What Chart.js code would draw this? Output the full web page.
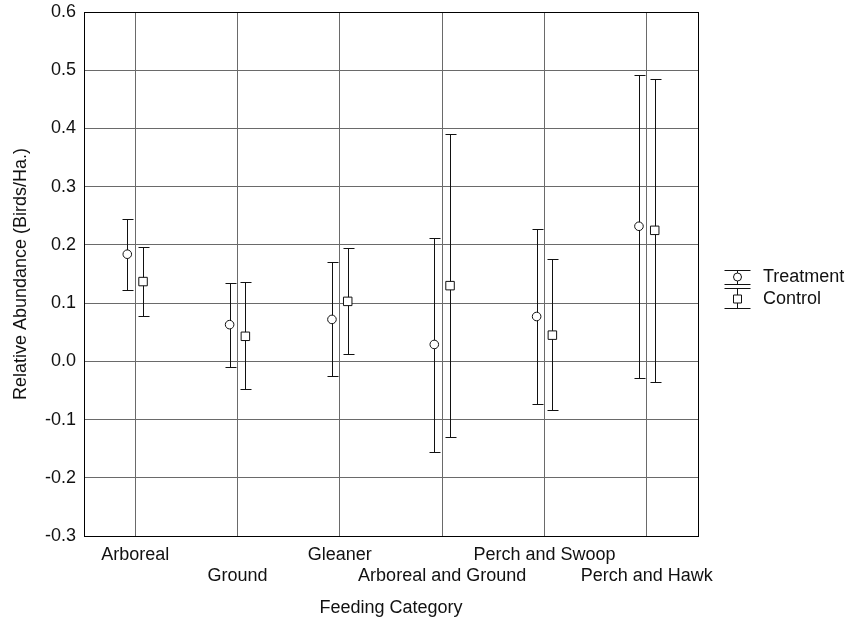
<!DOCTYPE html>
<html>
<head>
<meta charset="utf-8">
<script src="https://cdn.jsdelivr.net/npm/chart.js@4"></script>
<style>
  body { margin: 0; background: #fff; }
  #wrap { width: 847px; height: 623px; position: relative; }
</style>
</head>
<body>
<div id="wrap"><canvas id="feedingChart"></canvas></div>
<script>
var categories = ['Arboreal', 'Ground', 'Gleaner', 'Arboreal and Ground', 'Perch and Swoop', 'Perch and Hawk'];
var seriesNames = ['Treatment', 'Control'];

var treatmentMean = [0.184, 0.063, 0.072, 0.029, 0.077, 0.232];
var treatmentLow  = [0.122, -0.009, -0.026, -0.156, -0.073, -0.028];
var treatmentHigh = [0.244, 0.135, 0.171, 0.212, 0.227, 0.492];

var controlMean = [0.137, 0.043, 0.103, 0.130, 0.045, 0.225];
var controlLow  = [0.078, -0.048, 0.012, -0.130, -0.084, -0.035];
var controlHigh = [0.196, 0.136, 0.195, 0.391, 0.176, 0.485];

var yTicks = [-0.3, -0.2, -0.1, 0.0, 0.1, 0.2, 0.3, 0.4, 0.5, 0.6];

var shift = 0.077;
var font = 'Liberation Sans, Arial, sans-serif';

function points(means, lows, highs, dx) {
    return means.map(function (m, i) {
        return { x: i + dx, y: m, lo: lows[i], hi: highs[i] };
    });
}

var errorBars = {
    id: 'errorBars',
    beforeDatasetsDraw: function (chart) {
        var ctx = chart.ctx;
        var xs = chart.scales.x, ys = chart.scales.y;
        ctx.save();
        ctx.strokeStyle = '#111';
        ctx.lineWidth = 1;
        chart.data.datasets.forEach(function (ds) {
            ds.data.forEach(function (p) {
                var x = Math.round(xs.getPixelForValue(p.x)) + 0.5;
                var y1 = Math.round(ys.getPixelForValue(p.hi)) + 0.5;
                var y2 = Math.round(ys.getPixelForValue(p.lo)) + 0.5;
                ctx.beginPath();
                ctx.moveTo(x, y1); ctx.lineTo(x, y2);
                ctx.moveTo(x - 5, y1); ctx.lineTo(x + 6, y1);
                ctx.moveTo(x - 5, y2); ctx.lineTo(x + 6, y2);
                ctx.stroke();
            });
        });
        ctx.restore();
    },
    afterDraw: function (chart) {
        var ctx = chart.ctx;
        var a = chart.chartArea;
        ctx.save();
        ctx.strokeStyle = '#000';
        ctx.lineWidth = 1;
        ctx.strokeRect(Math.round(a.left) + 0.5, Math.round(a.top) + 0.5,
            Math.round(a.right - a.left), Math.round(a.bottom - a.top));

        // legend with error bar symbols
        var lx = 737.5, tx = 763;
        var rows = [
            { top: 270.5, mid: 277, bot: 284.5, style: 'circle' },
            { top: 288.5, mid: 299, bot: 308.5, style: 'rect' }
        ];
        ctx.font = '18px ' + font;
        ctx.textBaseline = 'middle';
        ctx.textAlign = 'left';
        rows.forEach(function (r, i) {
            ctx.strokeStyle = '#111';
            ctx.beginPath();
            ctx.moveTo(lx, r.top); ctx.lineTo(lx, r.bot);
            ctx.moveTo(lx - 13, r.top); ctx.lineTo(lx + 13, r.top);
            ctx.moveTo(lx - 13, r.bot); ctx.lineTo(lx + 13, r.bot);
            ctx.stroke();
            ctx.fillStyle = '#fff';
            ctx.beginPath();
            if (r.style === 'circle') {
                ctx.arc(lx, r.mid, 4, 0, Math.PI * 2);
            } else {
                ctx.rect(lx - 4, r.mid - 4, 8, 8);
            }
            ctx.fill();
            ctx.stroke();
            ctx.fillStyle = '#111';
            ctx.fillText(seriesNames[i], tx, r.mid);
        });
        ctx.restore();
    }
};

var datos = {
    datasets: [{
        label: seriesNames[0],
        data: points(treatmentMean, treatmentLow, treatmentHigh, -shift),
        pointStyle: 'circle',
        pointRadius: 4.3,
        pointBackgroundColor: '#fff',
        pointBorderColor: '#111',
        pointBorderWidth: 1,
        showLine: false
    }, {
        label: seriesNames[1],
        data: points(controlMean, controlLow, controlHigh, shift),
        pointStyle: 'rect',
        pointRadius: 6,
        pointBackgroundColor: '#fff',
        pointBorderColor: '#111',
        pointBorderWidth: 1,
        showLine: false
    }]
};

var opciones = {
    responsive: true,
    maintainAspectRatio: false,
    animation: false,
    events: [],
    layout: { padding: { top: 12, right: 149, bottom: 0, left: 0 } },
    plugins: {
        legend: { display: false },
        tooltip: { enabled: false }
    },
    scales: {
        x: {
            type: 'linear',
            min: -0.5,
            max: 5.5,
            afterBuildTicks: function (s) {
                s.ticks = categories.map(function (c, i) { return { value: i }; });
            },
            afterFit: function (s) {
                s.height = 87;
                s.paddingLeft = 0;
                s.paddingRight = 0;
            },
            grid: { color: '#6a6a6a', borderDash: [2, 1], drawTicks: false },
            border: { display: false },
            ticks: {
                autoSkip: false,
                maxRotation: 0,
                padding: 8,
                color: '#111',
                font: { family: font, size: 18, lineHeight: 1.19 },
                callback: function (v, i) {
                    return i % 2 === 0 ? [categories[i], ''] : ['', categories[i]];
                }
            },
            title: {
                display: true,
                text: 'Feeding Category',
                color: '#111',
                font: { family: font, size: 18 },
                padding: { top: 0, bottom: 4 }
            }
        },
        y: {
            min: -0.3,
            max: 0.6,
            afterBuildTicks: function (s) {
                s.ticks = yTicks.map(function (v) { return { value: v }; });
            },
            afterFit: function (s) {
                s.width = 84;
                s.paddingTop = 0;
                s.paddingBottom = 0;
            },
            grid: { color: '#6a6a6a', borderDash: [2, 1], drawTicks: false },
            border: { display: false },
            ticks: {
                padding: 8,
                color: '#111',
                font: { family: font, size: 18 },
                callback: function (v) { return v.toFixed(1); }
            },
            title: {
                display: true,
                text: 'Relative Abundance (Birds/Ha.)',
                color: '#111',
                font: { family: font, size: 18 },
                padding: { top: 10, bottom: 0 }
            }
        }
    }
};

var contexto = document.getElementById('feedingChart').getContext('2d');

var grafico = new Chart(contexto, {
    type: 'scatter',
    data: datos,
    options: opciones,
    plugins: [errorBars]
});
</script>
</body>
</html>
